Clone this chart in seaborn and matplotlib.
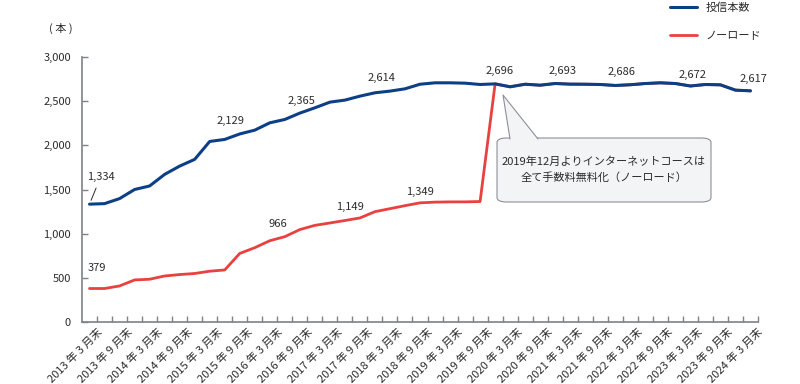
import numpy as np
import pandas as pd
import matplotlib
matplotlib.use("Agg")
import matplotlib.pyplot as plt
import matplotlib.transforms as mtransforms
import seaborn as sns
from matplotlib.patches import FancyBboxPatch, Polygon
from matplotlib.lines import Line2D

# quarterly month-end data, 2013/3 .. 2024/3
periods = [f"{y} 年 {m} 月末" for y in range(2013, 2025) for m in (3, 6, 9, 12)][:45]
tick_labels = periods[::2]

funds_total = [1334, 1340, 1397, 1500, 1540, 1671, 1765, 1841, 2044, 2067,
               2129, 2172, 2255, 2293, 2365, 2425, 2489, 2512, 2557, 2595,
               2614, 2640, 2692, 2708, 2708, 2704, 2689, 2696, 2663, 2692,
               2681, 2700, 2693, 2692, 2689, 2678, 2686, 2700, 2708, 2700,
               2672, 2689, 2685, 2625, 2617]
no_load = [379, 379, 408, 476, 484, 521, 537, 549, 575, 589,
           776, 841, 920, 966, 1046, 1094, 1121, 1149, 1178, 1249,
           1283, 1317, 1349, 1357, 1360, 1360, 1364] + funds_total[27:]

# (index, text offset px)
blue_labels = [(0, 11, 27), (10, -9, 13), (14, 2, 12), (20, -8, 13), (27, 4, 13),
               (32, -8, 13), (36, -9, 13), (40, 2, 11), (44, 3, 12)]
red_labels = [(0, 7, 21), (13, -7, 13), (17, 5, 14), (22, 0, 11)]

df = pd.DataFrame({"idx": np.arange(len(periods)), "total": funds_total, "noload": no_load})

BLUE = "#0c3f86"
RED = "#e8413f"
GREY = "#7d828a"
TXT = "#2b2b2b"
FS = 8

sns.set_theme(style="white")
plt.rcParams["font.family"] = ["Noto Sans CJK JP", "DejaVu Sans"]

fig = plt.figure(figsize=(8, 3.84), dpi=100)
ax = fig.add_axes([0.1025, 0.1615, 0.845, 0.69])

sns.lineplot(data=df, x="idx", y="noload", color=RED, lw=2, ax=ax, zorder=2)
sns.lineplot(data=df, x="idx", y="total", color=BLUE, lw=2.2, ax=ax, zorder=3)

ax.set_xlim(-0.5, len(periods) - 0.5)
ax.set_ylim(0, 3000)
ax.set_xlabel("")
ax.set_ylabel("")

ax.set_yticks([0, 500, 1000, 1500, 2000, 2500, 3000])
ax.set_yticklabels([f"{v:,}" for v in ax.get_yticks()], fontsize=FS, color=TXT)
ax.tick_params(axis="y", direction="in", length=4.5, width=1, color=GREY, pad=8, left=True)

ax.set_xticks(np.arange(0, len(periods), 2))
ax.set_xticklabels(tick_labels, rotation=45, ha="right", rotation_mode="anchor",
                   fontsize=FS, color=TXT)
ax.tick_params(axis="x", length=0, pad=3)
shift = mtransforms.ScaledTranslation(7 / 100, 0, fig.dpi_scale_trans)
for lab in ax.get_xticklabels():
    lab.set_transform(lab.get_transform() + shift)
ax.set_xticks(np.arange(0.5, len(periods)), minor=True)
ax.tick_params(axis="x", which="minor", direction="in", length=4.5, width=1, color=GREY, bottom=True)

for s in ["top", "right"]:
    ax.spines[s].set_visible(False)
for s in ["left", "bottom"]:
    ax.spines[s].set_color(GREY)
    ax.spines[s].set_linewidth(1.2)

k = 0.72  # px -> points
for i, dx, dy in blue_labels:
    kw = {}
    if i == 0:
        kw["arrowprops"] = dict(arrowstyle="-", color=TXT, lw=0.7, shrinkA=2, shrinkB=3)
    ax.annotate(f"{funds_total[i]:,}", xy=(i, funds_total[i]), xytext=(dx * k, dy * k),
                textcoords="offset points", ha="center", va="center",
                fontsize=FS, color=TXT, **kw)
for i, dx, dy in red_labels:
    ax.annotate(f"{no_load[i]:,}", xy=(i, no_load[i]), xytext=(dx * k, dy * k),
                textcoords="offset points", ha="center", va="center",
                fontsize=FS, color=TXT)

W, H = 800, 384
fig.text(49 / W, 1 - 28 / H, "( 本 )", fontsize=FS, color=TXT, ha="left", va="center")

# callout
fc, ec = "#f3f4f6", "#8c9097"
box = FancyBboxPatch((497 / W, 1 - 202 / H), 214 / W, 64 / H,
                     boxstyle="round,pad=0,rounding_size=0.012",
                     transform=fig.transFigure, fc=fc, ec=ec, lw=0.8, zorder=5)
fig.patches.append(box)
tip = (503 / W, 1 - 95 / H)
b1 = (510 / W, 1 - 139 / H)
b2 = (538 / W, 1 - 139 / H)
tri = Polygon([b1, tip, b2], closed=True, transform=fig.transFigure, fc=fc, ec="none", zorder=6)
fig.patches.append(tri)
fig.lines.append(Line2D([b1[0], tip[0], b2[0]], [b1[1], tip[1], b2[1]],
                        transform=fig.transFigure, color=ec, lw=0.8, zorder=7))
fig.text(604 / W, 1 - 170 / H, "2019年12月よりインターネットコースは\n全て手数料無料化（ノーロード）",
         ha="center", va="center", fontsize=FS, color=TXT, linespacing=1.55, zorder=8)

handles = [Line2D([], [], color=BLUE, lw=2.2), Line2D([], [], color=RED, lw=2)]
fig.legend(handles, ["投信本数", "ノーロード"], loc="upper left",
           bbox_to_anchor=(670 / W, 1 - 2 / H), frameon=False, fontsize=FS,
           handlelength=2.4, handletextpad=0.8, labelspacing=1.65,
           borderpad=0, borderaxespad=0, labelcolor=TXT)

fig.savefig("out.png", dpi=100)
